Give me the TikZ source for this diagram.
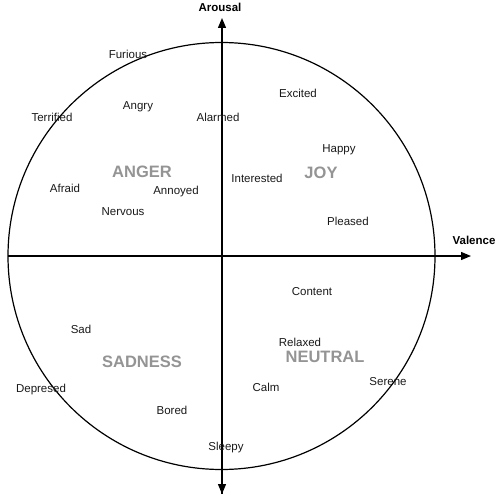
\documentclass[tikz,border=0pt]{standalone}
\usepackage{fontspec}
\setmainfont{Liberation Sans}
\usetikzlibrary{arrows.meta}
\begin{document}
\begin{tikzpicture}[x=1pt,y=-1pt,
  emo/.style={font=\fontsize{11.5}{13}\selectfont, inner sep=0pt, text=black!90},
  grp/.style={font=\fontsize{16.5}{18}\selectfont\bfseries, inner sep=0pt, text=black!42},
  axlab/.style={font=\fontsize{11.5}{13}\selectfont\bfseries, inner sep=0pt},
  axis/.style={line width=1.3pt, -{Triangle[length=10pt,width=8pt]}},
  ring/.style={line width=1.2pt}]
\useasboundingbox (0,0) rectangle (500,500);
\node[draw, ring, circle, minimum size=427pt, inner sep=0pt] (c) at (221.5,256) {};
\coordinate (xs) at (8,256);
\coordinate (xe) at (471,256);
\coordinate (ys) at (222,494);
\coordinate (ye) at (222,18);
\draw[axis] (xs) -- (xe);
\draw[axis] (ys) -- (ye);
\draw[axis] (222,256) -- (ys);
\node[axlab] (arousal) at (220,7.5) {Arousal};
\node[axlab] (valence) at (474,240.5) {Valence};
\node[grp] (anger) at (142,171.5) {ANGER};
\node[grp] (joy) at (321,172.5) {JOY};
\node[grp] (sadness) at (142,361.5) {SADNESS};
\node[grp] (neutral) at (325,356.5) {NEUTRAL};
\node[emo] (furious) at (128,54) {Furious};
\node[emo] (terrified) at (52,117) {Terrified};
\node[emo] (angry) at (138,107) {Angry};
\node[emo] (alarmed) at (218,117) {Alarmed};
\node[emo] (excited) at (298,93) {Excited};
\node[emo] (happy) at (339,150) {Happy};
\node[emo] (interested) at (257,178) {Interested};
\node[emo] (afraid) at (65,188) {Afraid};
\node[emo] (annoyed) at (176,192) {Annoyed};
\node[emo] (nervous) at (123,212) {Nervous};
\node[emo] (pleased) at (348,221) {Pleased};
\node[emo] (content) at (312,292) {Content};
\node[emo] (sad) at (81,329) {Sad};
\node[emo] (relaxed) at (300,342) {Relaxed};
\node[emo] (depresed) at (41,390) {Depresed};
\node[emo] (calm) at (266,387) {Calm};
\node[emo] (serene) at (388,382) {Serene};
\node[emo] (bored) at (172,410) {Bored};
\node[emo] (sleepy) at (226,448) {Sleepy};
\end{tikzpicture}
\end{document}
